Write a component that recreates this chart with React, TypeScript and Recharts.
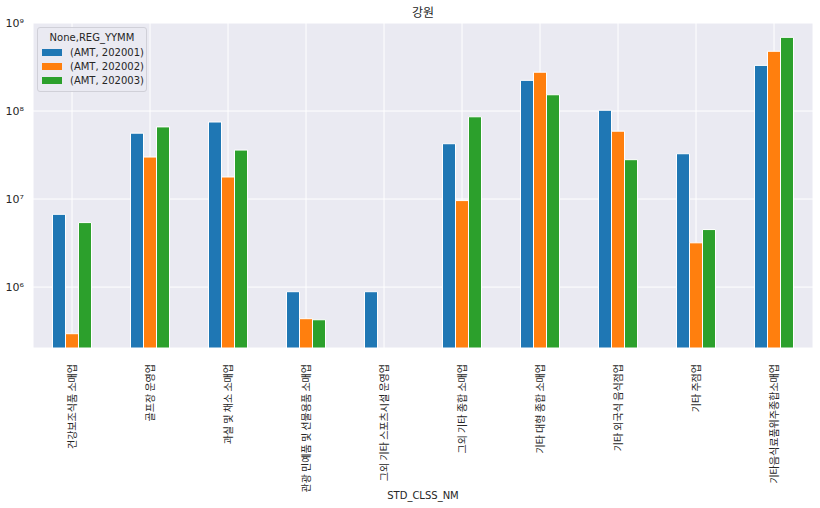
import React from 'react';
import { BarChart, Bar, XAxis, YAxis, CartesianGrid } from 'recharts';

const categories = [
  '건강보조식품 소매업',
  '골프장 운영업',
  '과실 및 채소 소매업',
  '관광 민예품 및 선물용품 소매업',
  '그외 기타 스포츠시설 운영업',
  '그외 기타 종합 소매업',
  '기타 대형 종합 소매업',
  '기타 외국식 음식점업',
  '기타 주점업',
  '기타음식료품위주종합소매업',
];

const amt202001 = [6.7e6, 5.6e7, 7.5e7, 8.85e5, 8.85e5, 4.25e7, 2.23e8, 1.02e8, 3.27e7, 3.3e8];
const amt202002 = [2.95e5, 3.0e7, 1.78e7, 4.37e5, null, 9.6e6, 2.76e8, 5.9e7, 3.18e6, 4.77e8];
const amt202003 = [5.4e6, 6.6e7, 3.6e7, 4.25e5, null, 8.6e7, 1.53e8, 2.8e7, 4.5e6, 6.87e8];

const seriesNames = ['(AMT, 202001)', '(AMT, 202002)', '(AMT, 202003)'];
const colors = ['#1f77b4', '#ff7f0e', '#2ca02c'];
const yTicks = [1e6, 1e7, 1e8, 1e9];
const yTickLabels = ['10⁶', '10⁷', '10⁸', '10⁹'];

const data = categories.map((c, i) => ({
  name: c,
  s1: amt202001[i],
  s2: amt202002[i],
  s3: amt202003[i],
}));

const FONT = '"DejaVu Sans", sans-serif';
const KFONT = '"Noto Sans CJK KR", "DejaVu Sans", sans-serif';

const XTick = (props: any) => {
  const { x, y, payload } = props;
  return (
    <text
      x={x}
      y={y + 8}
      transform={`rotate(-90, ${x}, ${y + 8})`}
      textAnchor="end"
      dy="0.35em"
      fontSize={10}
      fontFamily={KFONT}
      fill="#262626"
    >
      {payload.value}
    </text>
  );
};

const LegendBox = () => (
  <div
    style={{
      position: 'absolute',
      left: 37,
      top: 27,
      width: 110,
      padding: '3px 0 4px 0',
      border: '1px solid #d0d0d8',
      borderRadius: 3,
      background: 'rgba(234,234,242,0.85)',
      fontFamily: FONT,
      fontSize: 10,
      color: '#262626',
      boxSizing: 'border-box',
    }}
  >
    <div style={{ textAlign: 'center', lineHeight: '14px' }}>None,REG_YYMM</div>
    {seriesNames.map((n, i) => (
      <div key={n} style={{ display: 'flex', alignItems: 'center', height: 14, paddingLeft: 4 }}>
        <span style={{ display: 'inline-block', width: 20, height: 7, background: colors[i], marginRight: 8 }} />
        <span>{n}</span>
      </div>
    ))}
  </div>
);

export default function App() {
  return (
    <div style={{ position: 'absolute', left: 0, top: 0, width: 820, height: 508, background: '#fff' }}>
      <div
        style={{
          position: 'absolute',
          left: 33,
          width: 780,
          top: 4,
          textAlign: 'center',
          fontFamily: KFONT,
          fontSize: 12,
          color: '#262626',
          lineHeight: '16px',
        }}
      >
        강원
      </div>
      <BarChart
        width={820}
        height={508}
        data={data}
        margin={{ top: 23, right: 7, left: 0, bottom: 0 }}
        barCategoryGap="25%"
        barGap={0}
      >
        <CartesianGrid stroke="#ffffff" strokeWidth={1} fill="#EAEAF2" vertical horizontal />
        <XAxis
          dataKey="name"
          interval={0}
          height={160}
          axisLine={false}
          tickLine={false}
          tick={<XTick />}
          label={{ value: 'STD_CLSS_NM', position: 'insideBottom', offset: 9, fontSize: 10, fontFamily: FONT, fill: '#262626' }}
        />
        <YAxis
          scale="log"
          domain={[2.03e5, 1e9]}
          allowDataOverflow
          ticks={yTicks}
          tickFormatter={(v: number) => yTickLabels[yTicks.indexOf(v)] ?? String(v)}
          width={33}
          axisLine={false}
          tickLine={false}
          tickMargin={3}
          tick={{ fontSize: 11, fontFamily: FONT, fill: '#262626' }}
        />
        <Bar dataKey="s1" name={seriesNames[0]} fill={colors[0]} stroke="#fff" strokeWidth={1} isAnimationActive={false} />
        <Bar dataKey="s2" name={seriesNames[1]} fill={colors[1]} stroke="#fff" strokeWidth={1} isAnimationActive={false} />
        <Bar dataKey="s3" name={seriesNames[2]} fill={colors[2]} stroke="#fff" strokeWidth={1} isAnimationActive={false} />
      </BarChart>
      <LegendBox />
    </div>
  );
}
